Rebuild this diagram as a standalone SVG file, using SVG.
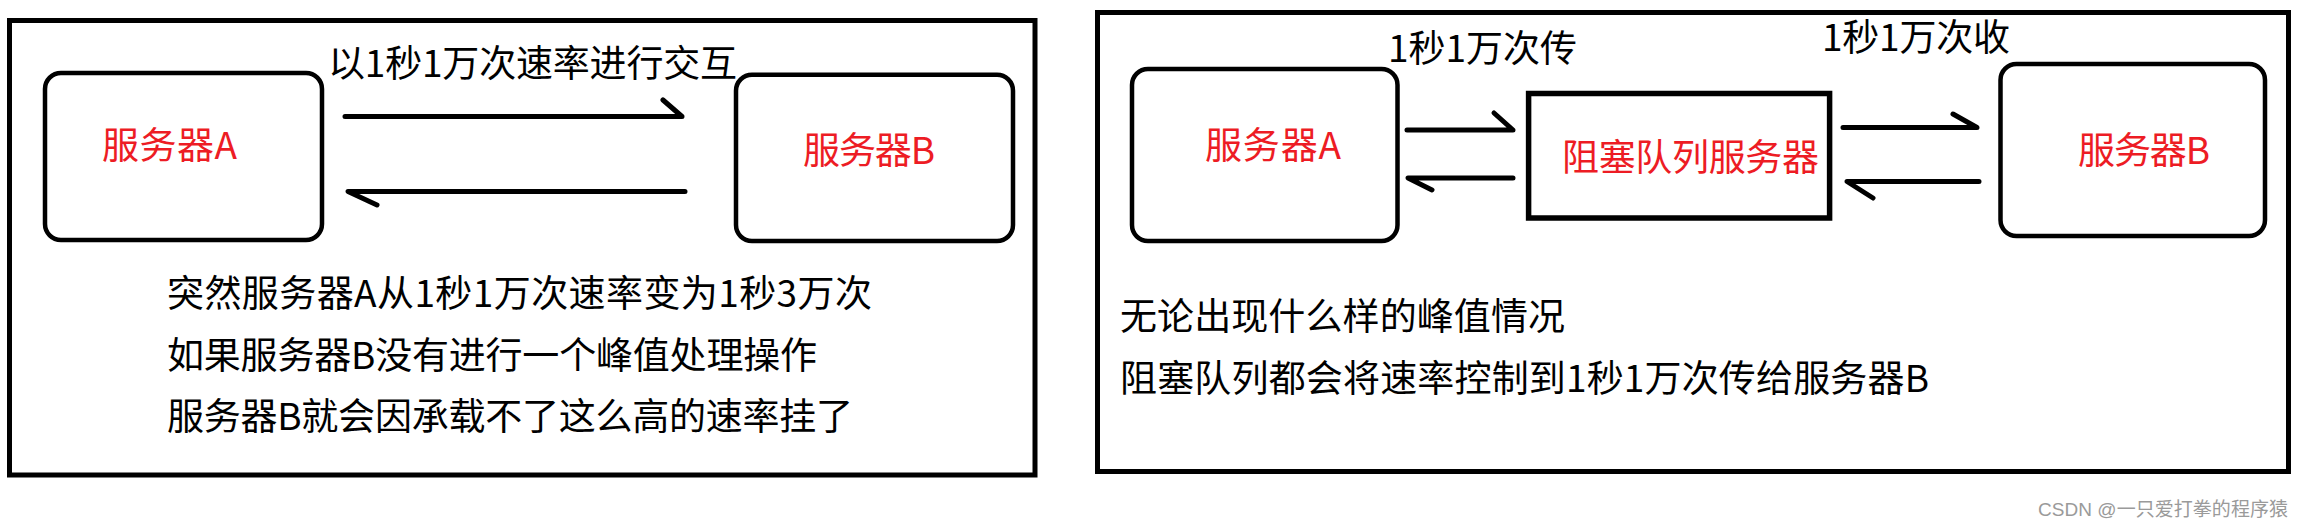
<svg xmlns="http://www.w3.org/2000/svg" width="2304" height="529" viewBox="0 0 2304 529">
<style>
.bg{fill:#fff}
.frame{fill:none;stroke:#000;stroke-width:5}
.box{fill:#fff;stroke:#000;stroke-width:4.5}
.qbox{fill:#fff;stroke:#000;stroke-width:5.5}
.t{font-family:"Noto Sans CJK SC","Noto Sans CJK JP",sans-serif;font-size:37px;fill:#000}
.red{fill:#ed1c24}
.conn path{fill:none;stroke:#000;stroke-width:5;stroke-linecap:round;stroke-linejoin:round}
.wm{font-family:"Liberation Sans","Noto Sans CJK SC",sans-serif;font-size:19px;fill:#9a9a9a}
</style>
<rect class="bg" x="0" y="0" width="2304" height="529"/>

<g id="panel-left">
<rect class="frame" x="9.5" y="20.5" width="1025.5" height="454.5"/>
<text class="t" x="328" y="77" textLength="409" lengthAdjust="spacing">以1秒1万次速率进行交互</text>
<text class="t" x="167" y="307" textLength="705" lengthAdjust="spacing">突然服务器A从1秒1万次速率变为1秒3万次</text>
<text class="t" x="167" y="369" textLength="650" lengthAdjust="spacing">如果服务器B没有进行一个峰值处理操作</text>
<text class="t" x="167" y="430" textLength="686" lengthAdjust="spacing">服务器B就会因承载不了这么高的速率挂了</text>
</g>

<g id="left-server-a">
<rect class="box" x="45" y="73" width="277" height="167" rx="16" ry="16"/>
<text class="t red" x="102" y="159" textLength="135" lengthAdjust="spacing">服务器A</text>
</g>

<g id="left-server-b">
<rect class="box" x="736" y="74.7" width="277" height="166.3" rx="16" ry="16"/>
<text class="t red" x="803" y="164" textLength="132" lengthAdjust="spacing">服务器B</text>
</g>

<g id="panel-right">
<rect class="frame" x="1097.5" y="12.5" width="1191" height="459"/>
<text class="t" x="1388" y="62" textLength="189" lengthAdjust="spacing">1秒1万次传</text>
<text class="t" x="1822" y="51" textLength="188" lengthAdjust="spacing">1秒1万次收</text>
<text class="t" x="1120" y="330" textLength="445" lengthAdjust="spacing">无论出现什么样的峰值情况</text>
<text class="t" x="1120" y="392" textLength="809" lengthAdjust="spacing">阻塞队列都会将速率控制到1秒1万次传给服务器B</text>
</g>

<g id="right-server-a">
<rect class="box" x="1132" y="69" width="265.5" height="172" rx="16" ry="16"/>
<text class="t red" x="1205" y="159" textLength="136" lengthAdjust="spacing">服务器A</text>
</g>

<g id="blocking-queue">
<rect class="qbox" x="1528.6" y="93.5" width="301" height="124.5"/>
<text class="t red" x="1562" y="171" textLength="257" lengthAdjust="spacing">阻塞队列服务器</text>
</g>

<g id="right-server-b">
<rect class="box" x="2000.5" y="64" width="264.5" height="172" rx="16" ry="16"/>
<text class="t red" x="2078" y="164" textLength="132" lengthAdjust="spacing">服务器B</text>
</g>

<g id="connectors" class="conn">
<path d="M345 116.5 H682 L663 100"/>
<path d="M685 191.5 H348 L377 205"/>
<path d="M1407 130 H1513 L1494 113"/>
<path d="M1513 178 H1408 L1432 190"/>
<path d="M1843 127.5 H1977 L1953 114"/>
<path d="M1979 181.5 H1847 L1873 198"/>
</g>

<text class="wm" x="2038" y="516" textLength="250" lengthAdjust="spacing">CSDN @一只爱打拳的程序猿</text>
</svg>
